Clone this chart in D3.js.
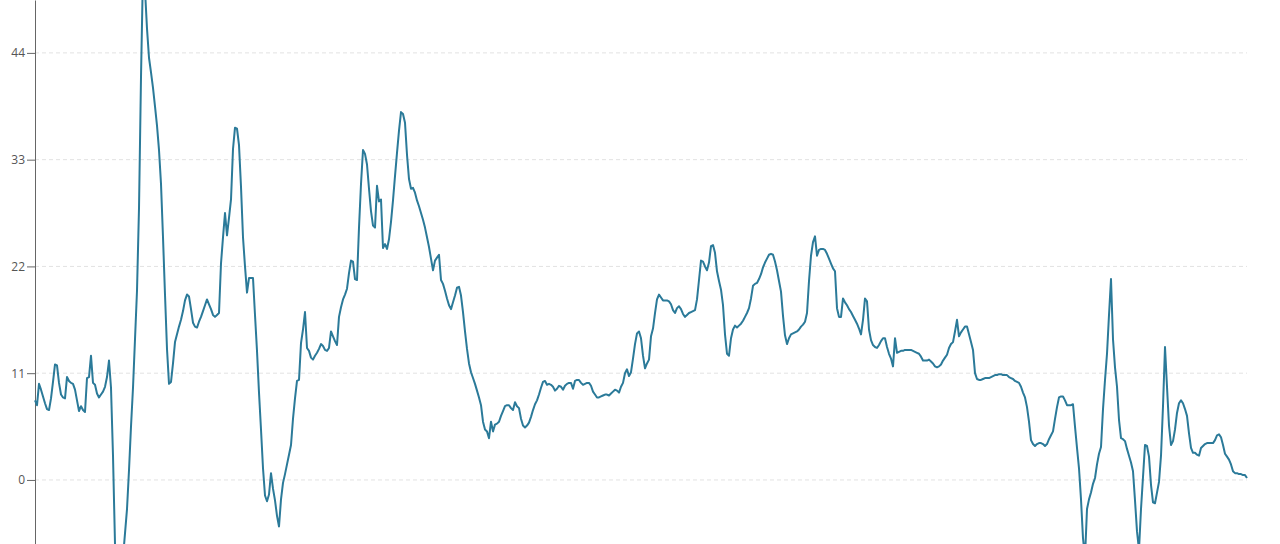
<!DOCTYPE html>
<html><head><meta charset="utf-8">
<script src="https://cdn.jsdelivr.net/npm/d3@7"></script>
<style>html,body{margin:0;padding:0;background:#fff;overflow:hidden}</style>
</head><body><svg id="chart" width="1280" height="544"></svg>
<script>
const yTicks = [0, 11, 22, 33, 44];
const values = [
8.2,7.7,9.9,9.3,8.6,7.9,7.3,7.2,8.4,10.1,
11.9,11.8,10.0,8.8,8.5,8.4,10.6,10.2,10.0,9.9,
9.3,8.2,7.1,7.6,7.2,7.0,10.5,10.6,12.8,10.0,
9.8,8.9,8.5,8.8,9.1,9.6,10.6,12.3,9.5,2.5,
-6.6,-9.0,-10.0,-9.5,-8.0,-5.5,-3.0,1.0,5.5,9.5,
14.5,19.5,28.0,41.5,52.5,50.5,46.5,43.5,42.0,40.4,
38.5,36.5,34.0,30.5,25.0,19.1,13.5,9.9,10.1,12.0,
14.2,15.0,15.8,16.5,17.4,18.5,19.1,18.9,17.6,16.2,
15.8,15.7,16.3,16.8,17.4,18.0,18.6,18.1,17.6,17.0,
16.8,17.0,17.2,22.3,25.0,27.5,25.2,27.0,28.9,34.1,
36.3,36.2,34.5,30.2,25.0,22.0,19.3,20.8,20.8,20.8,
17.0,13.3,9.0,5.2,1.2,-1.6,-2.2,-1.5,0.7,-0.9,
-2.1,-3.7,-4.8,-2.0,-0.3,0.6,1.6,2.6,3.6,6.3,
8.4,10.2,10.3,14.1,15.5,17.3,13.6,13.3,12.6,12.4,
12.8,13.1,13.5,14.0,13.8,13.4,13.3,13.6,15.3,14.8,
14.3,13.9,16.8,17.8,18.6,19.1,19.7,21.3,22.6,22.5,
20.7,20.6,26.0,30.5,34.0,33.6,32.5,30.0,27.7,26.2,
26.0,30.3,28.7,28.9,23.9,24.3,23.8,24.8,26.6,28.8,
31.3,33.7,36.0,37.9,37.7,36.8,33.5,31.0,30.0,30.1,
29.6,28.8,28.2,27.5,26.8,26.0,25.0,24.0,22.8,21.6,
22.6,22.9,23.2,20.6,20.2,19.5,18.7,18.0,17.6,18.3,
19.0,19.8,19.9,19.0,17.3,15.3,13.5,12.0,11.1,10.5,
9.9,9.2,8.5,7.7,6.0,5.2,5.0,4.3,6.0,5.0,
5.7,5.8,6.0,6.6,7.1,7.6,7.7,7.7,7.4,7.2,
8.0,7.6,7.4,6.3,5.6,5.4,5.6,5.9,6.5,7.2,
7.8,8.2,8.8,9.5,10.1,10.2,9.8,9.9,9.8,9.6,
9.2,9.4,9.7,9.6,9.3,9.7,9.9,10.0,10.0,9.4,
10.2,10.3,10.3,10.0,9.8,9.9,10.0,10.0,9.7,9.1,
8.8,8.5,8.5,8.6,8.7,8.8,8.8,8.7,8.9,9.1,
9.3,9.2,9.0,9.6,10.0,11.0,11.4,10.7,11.1,12.5,
14.0,15.1,15.3,14.6,12.8,11.5,12.0,12.4,14.8,15.6,
17.2,18.6,19.1,18.8,18.5,18.5,18.5,18.4,18.1,17.5,
17.2,17.7,17.9,17.6,17.1,16.8,17.0,17.2,17.3,17.4,
17.5,18.6,20.6,22.6,22.5,22.0,21.6,22.4,24.1,24.2,
23.4,21.5,20.5,19.6,18.0,15.0,13.0,12.8,14.6,15.5,
15.9,15.7,15.9,16.1,16.4,16.8,17.2,17.7,18.7,20.0,
20.2,20.3,20.7,21.2,21.9,22.4,22.8,23.2,23.3,23.2,
22.5,21.6,20.5,19.4,16.9,14.9,14.0,14.6,15.0,15.1,
15.2,15.3,15.5,15.8,16.0,16.3,17.2,20.5,23.1,24.5,
25.1,23.1,23.7,23.8,23.8,23.7,23.3,22.8,22.3,21.8,
21.5,17.7,16.8,16.8,18.7,18.3,18.0,17.6,17.3,16.9,
16.5,16.1,15.6,15.0,16.5,18.7,18.4,15.5,14.4,13.9,
13.7,13.6,13.9,14.3,14.6,14.6,13.7,13.0,12.5,11.7,
14.6,13.1,13.2,13.3,13.3,13.4,13.4,13.4,13.4,13.3,
13.2,13.1,13.0,12.7,12.3,12.3,12.3,12.4,12.2,12.0,
11.7,11.6,11.7,11.9,12.3,12.6,12.9,13.6,14.0,14.2,
15.3,16.5,14.8,15.2,15.5,15.8,15.8,15.0,14.2,13.4,
11.0,10.4,10.3,10.3,10.4,10.5,10.5,10.5,10.6,10.7,
10.8,10.8,10.9,10.9,10.8,10.8,10.8,10.6,10.5,10.4,
10.2,10.1,10.0,9.6,9.0,8.5,7.5,6.0,4.1,3.7,
3.5,3.7,3.8,3.8,3.7,3.5,3.7,4.2,4.6,5.0,
6.3,7.5,8.5,8.6,8.6,8.2,7.7,7.7,7.7,7.8,
5.5,3.3,1.2,-2.0,-6.0,-8.0,-3.0,-2.0,-1.3,-0.4,
0.2,1.6,2.7,3.4,7.3,10.3,13.0,17.0,20.7,14.5,
11.6,9.6,6.2,4.3,4.2,4.0,3.2,2.5,1.8,0.9,
-2.1,-5.3,-7.2,-3.0,0.3,3.6,3.5,2.4,-0.5,-2.3,
-2.4,-1.3,-0.2,2.5,7.6,13.7,9.6,5.6,3.6,4.0,
5.2,6.9,7.9,8.2,7.9,7.3,6.6,4.8,3.3,2.8,
2.8,2.6,2.5,3.3,3.5,3.7,3.8,3.8,3.8,3.8,
4.1,4.6,4.7,4.4,3.6,2.7,2.4,2.1,1.6,0.9,
0.7,0.7,0.6,0.6,0.5,0.5,0.2
];

const W = 1280, H = 544;
const left = 35, right = 1247;
const svg = d3.select('#chart');
const x = d3.scaleLinear().domain([0, values.length - 1]).range([left, right]);
const y = d3.scaleLinear().domain([-6.6, 49.45]).range([H, 0]);

// grid lines
svg.append('g').selectAll('line').data(yTicks).join('line')
  .attr('x1', x(0)).attr('x2', x(values.length - 1))
  .attr('y1', d => y(d)).attr('y2', d => y(d))
  .attr('stroke', '#e2e2e2').attr('stroke-width', 1)
  .attr('stroke-dasharray', '4 3');

// y axis
const ax = svg.append('g').attr('transform', `translate(${left},0)`)
  .call(d3.axisLeft(y).tickValues(yTicks).tickSize(8).tickSizeOuter(0).tickPadding(2));
ax.select('.domain').attr('stroke', '#666');
ax.selectAll('.tick line').attr('stroke', '#666');
ax.selectAll('text').attr('fill', '#555')
  .style('font-size', '12px').style('font-family', '"Open Sans", sans-serif');

// line
svg.append('path').datum(values)
  .attr('fill', 'none').attr('stroke', '#2b7a99').attr('stroke-width', 2)
  .attr('stroke-linejoin', 'round')
  .attr('d', d3.line().x((d, i) => x(i)).y(d => y(d)));
</script></body></html>
